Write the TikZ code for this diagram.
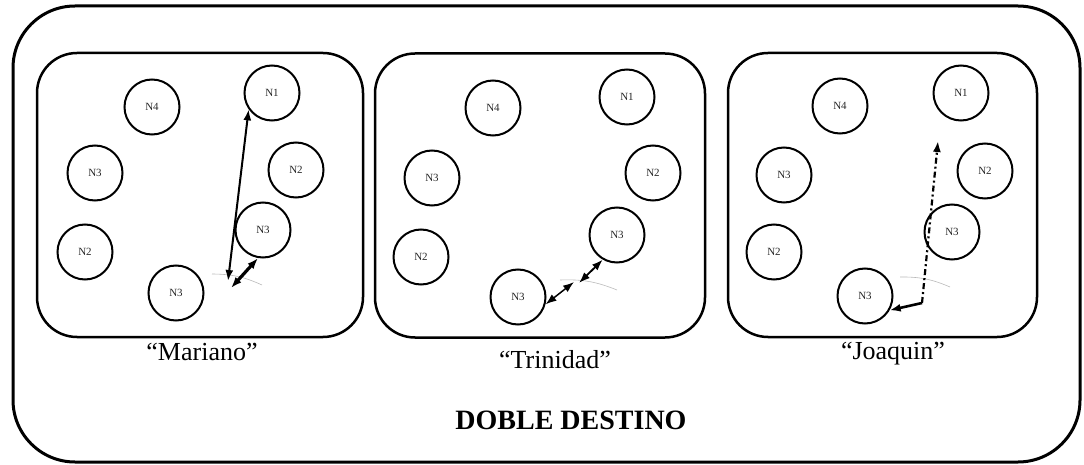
\documentclass[tikz,border=0pt]{standalone}
\usepackage{fontspec}
\setmainfont{Liberation Serif}
\usetikzlibrary{
  arrows.meta,
  positioning,
}
\tikzset{
  >={Latex[length=11pt,width=8pt]},
}

\begin{document}
\begin{tikzpicture}[x=1pt, y=-1pt,
    panel/.style={draw, line width=2.5pt, rounded corners=40pt, minimum height=284pt, inner sep=0pt},
    site/.style={draw, circle, line width=2pt, minimum size=55pt, inner sep=0pt, font=\fontsize{11}{13}\selectfont, text=black!85},
    caption/.style={font=\fontsize{26}{28}\selectfont},
    trail/.style={<->, line width=2pt},
    ripple/.style={draw=gray!55, line width=0.6pt}]
      \useasboundingbox (0,0) rectangle (1084,465);
      \draw [line width=3pt, rounded corners=62pt] (13,6) rectangle (1080,462);
      % three journeys
      \node [panel, minimum width=326pt] (mar) at (200,195) {};
      \node [panel, minimum width=330pt] (tri) at (540,195.5) {};
      \node [panel, minimum width=309pt] (joa) at (882.5,195) {};
      % Mariano
      \node [site] (m4) at (152,107) {N4};
      \node [site] (m1) at (272,93) {N1};
      \node [site] (m3a) at (95,173) {N3};
      \node [site] (m2a) at (296,170) {N2};
      \node [site] (m3b) at (263,230) {N3};
      \node [site] (m2b) at (85,252) {N2};
      \node [site] (m3c) at (176,293) {N3};
      \coordinate (m-end) at (228,281);
      \coordinate (m-tip) at (231,288);
      \draw [ripple] (212,274) to [bend left=12] (262,285);
      \draw [trail] (m1.215) -- (m-end);
      \draw [trail, line width=3.2pt] (m3b.260) -- (m-tip);
      % Trinidad
      \node [site] (t4) at (493,108) {N4};
      \node [site] (t1) at (627,97) {N1};
      \node [site] (t3a) at (432,178) {N3};
      \node [site] (t2a) at (653,173) {N2};
      \node [site] (t3b) at (617,235) {N3};
      \node [site] (t2b) at (421,257) {N2};
      \node [site] (t3c) at (518,297) {N3};
      \coordinate (t-mid1) at (574,282);
      \coordinate (t-mid2) at (579,283);
      \draw [ripple] (560,280) to [bend left=12] (617,290);
      \draw [trail, line width=1.5pt] (t3c.-15) -- (t-mid1);
      \draw [trail, line width=1.8pt] (t-mid2) -- (t3b.240);
      % Joaquin
      \node [site] (j4) at (840,106) {N4};
      \node [site] (j1) at (961,93) {N1};
      \node [site] (j3a) at (784,175) {N3};
      \node [site] (j2a) at (985,171) {N2};
      \node [site] (j3b) at (952,232) {N3};
      \node [site] (j2b) at (774,252) {N2};
      \node [site] (j3c) at (865,296) {N3};
      \coordinate (j-bend) at (922,303);
      \coordinate (j-top) at (938,141);
      \draw [ripple] (900,277) to [bend left=12] (950,287);
      \draw [->, line width=2.2pt, dash pattern=on 6pt off 3pt on 2pt off 3pt] (j-bend) -- (j-top);
      \draw [->, line width=2.6pt] (j-bend) -- (j3c.-30);
      % labels
      \node [caption] (mar-name) at (202,352) {“Mariano”};
      \node [caption] (tri-name) at (555,360) {“Trinidad”};
      \node [caption] (joa-name) at (893,354) {“Joaquin”};
      \node [font=\fontsize{28}{30}\selectfont\bfseries] (title) at (571,420) {DOBLE DESTINO};
    \end{tikzpicture}
\end{document}
